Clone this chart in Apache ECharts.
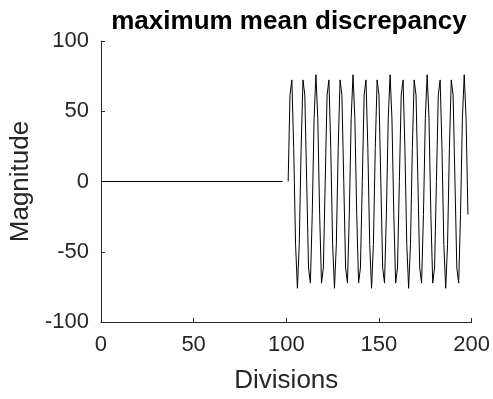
<!DOCTYPE html>
<html>
<head>
<meta charset="utf-8">
<script src="https://cdn.jsdelivr.net/npm/echarts@6/dist/echarts.min.js"></script>
<style>
html,body{margin:0;padding:0;background:#fff;}
#chart{width:493px;height:399px;}
</style>
</head>
<body>
<div id="chart"></div>
<script>
// ---- data ----
var titleText = 'maximum mean discrepancy';
var xLabel = 'Divisions';
var yLabel = 'Magnitude';
var xTicks = [0, 50, 100, 150, 200];
var yTicks = [-100, -50, 0, 50, 100];

// flat segment (x, y)
var flatX = [0, 98];
var flatY = [0, 0];

// oscillating segment: x from 101 to 198 (one point per division)
var oscStartX = 101;
var oscY = [
  0, 61.5, 72.3, 23.5, -44.7, -76, -44.7, 23.5, 72.3, 61.5,
  0, -61.5, -72.3, -23.5, 44.7, 76, 44.7, -23.5, -72.3, -61.5,
  0, 61.5, 72.3, 23.5, -44.7, -76, -44.7, 23.5, 72.3, 61.5,
  0, -61.5, -72.3, -23.5, 44.7, 76, 44.7, -23.5, -72.3, -61.5,
  0, 61.5, 72.3, 23.5, -44.7, -76, -44.7, 23.5, 72.3, 61.5,
  0, -61.5, -72.3, -23.5, 44.7, 76, 44.7, -23.5, -72.3, -61.5,
  0, 61.5, 72.3, 23.5, -44.7, -76, -44.7, 23.5, 72.3, 61.5,
  0, -61.5, -72.3, -23.5, 44.7, 76, 44.7, -23.5, -72.3, -61.5,
  0, 61.5, 72.3, 23.5, -44.7, -76, -44.7, 23.5, 72.3, 61.5,
  0, -61.5, -72.3, -23.5, 44.7, 76, 44.7, -23.5
];

// ---- build ----
var flatData = flatX.map(function (x, i) { return [x, flatY[i]]; });
var oscData = oscY.map(function (y, i) { return [oscStartX + i, y]; });

var txt = '#262626';
var font = 'Liberation Sans';
var chart = echarts.init(document.getElementById('chart'), null, {renderer: 'canvas'});
chart.setOption({
  animation: false,
  backgroundColor: '#fff',
  title: {
    text: titleText,
    left: 284, textAlign: 'center',
    top: 4,
    textStyle: {fontFamily: font, fontWeight: 'bold', fontSize: 26, color: '#000'}
  },
  grid: {left: 97, right: 21, top: 41, bottom: 75, containLabel: false},
  xAxis: {
    type: 'value', min: xTicks[0], max: xTicks[xTicks.length - 1], interval: 50,
    name: xLabel, nameLocation: 'middle', nameGap: 46,
    nameTextStyle: {fontFamily: font, fontSize: 26, color: txt},
    axisLine: {show: true, onZero: false, lineStyle: {color: txt, width: 1}},
    axisTick: {show: true, inside: true, length: 4, lineStyle: {color: txt}},
    axisLabel: {fontFamily: font, fontSize: 22, color: txt, margin: 12},
    splitLine: {show: false}
  },
  yAxis: {
    type: 'value', min: yTicks[0], max: yTicks[yTicks.length - 1], interval: 50,
    name: yLabel, nameLocation: 'middle', nameGap: 65, nameRotate: 90,
    nameTextStyle: {fontFamily: font, fontSize: 26, color: txt},
    axisLine: {show: true, onZero: false, lineStyle: {color: txt, width: 1}},
    axisTick: {show: true, inside: true, length: 4, lineStyle: {color: txt}},
    axisLabel: {fontFamily: font, fontSize: 22, color: txt, margin: 12},
    splitLine: {show: false}
  },
  series: [
    {type: 'line', data: flatData, showSymbol: false, lineStyle: {color: '#000', width: 1}},
    {type: 'line', data: oscData, showSymbol: false, lineStyle: {color: '#000', width: 1}}
  ]
});
</script>
</body>
</html>
